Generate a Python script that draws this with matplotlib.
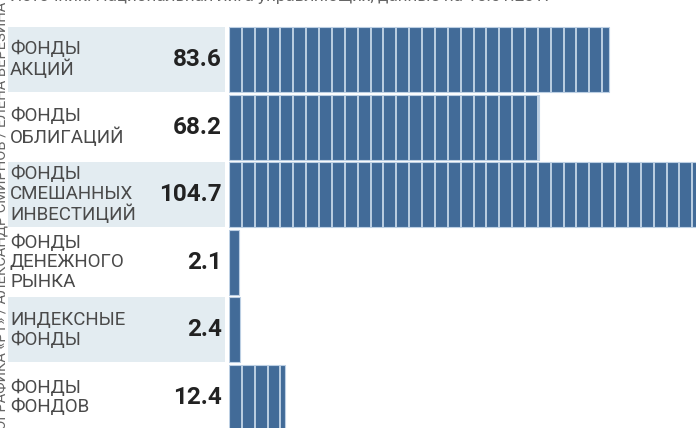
import matplotlib
matplotlib.use("Agg")
import matplotlib.pyplot as plt
import numpy as np

categories = ["ФОНДЫ\nАКЦИЙ", "ФОНДЫ\nОБЛИГАЦИЙ", "ФОНДЫ\nСМЕШАННЫХ\nИНВЕСТИЦИЙ",
              "ФОНДЫ\nДЕНЕЖНОГО\nРЫНКА", "ИНДЕКСНЫЕ\nФОНДЫ", "ФОНДЫ\nФОНДОВ"]
values = [83.6, 68.2, 104.7, 2.1, 2.4, 12.4]
value_labels = ["83.6", "68.2", "104.7", "2.1", "2.4", "12.4"]
source = "Источник: Национальная лига управляющих, данные на 15.01.2017"
credit = "ИНФОГРАФИКА «РТ» / АЛЕКСАНДР СМИРНОВ / ЕЛЕНА ВЕРЕЗИНА"

W, H = 696, 428
BAR = "#426b98"
SEG = "#bccfe3"
PANEL = "#e3ecf1"

fig = plt.figure(figsize=(W / 100, H / 100), dpi=100)
plt.rcParams['font.family'] = ['Roboto', 'DejaVu Sans']

pitch_px = 67.6
c0 = 59.5
ylim = ((H - c0) / pitch_px, -c0 / pitch_px)
bh = 65 / pitch_px
n = len(categories)
ypos = np.arange(n)

# label panel axes
x0, x1 = 8, 225
axl = fig.add_axes([x0 / W, 0, (x1 - x0) / W, 1])
axl.set_xlim(0, x1 - x0)
axl.set_ylim(*ylim)
axl.axis("off")
for i in ypos:
    if i % 2 == 0:
        axl.barh(i, x1 - x0, height=bh, left=0, color=PANEL, linewidth=0)
    axl.text(2, i, categories[i], ha="left", va="center", fontsize=13.5,
             color="#4a4a4a", linespacing=1.12)
    axl.text(x1 - x0 - 3, i, value_labels[i], ha="right", va="center",
             fontsize=17.5, fontweight="bold", color="#222222")

# bar axes
bx0 = 229
scale = 4.54  # px per unit
axb = fig.add_axes([bx0 / W, 0, (W - bx0) / W, 1])
axb.set_xlim(0, (W - bx0) / scale)
axb.set_ylim(*ylim)
axb.axis("off")
axb.barh(ypos, values, height=bh, color=BAR, edgecolor=SEG, linewidth=0.8)
seg = 12.87 / scale
for i, v in zip(ypos, values):
    xs = np.arange(seg, v, seg)
    if len(xs):
        axb.vlines(xs, i - bh / 2, i + bh / 2, color=SEG, linewidth=1.4)

fig.text(10 / W, 1 - (-3) / H, source, ha="left", va="center", fontsize=12.3,
         color="#666666")
fig.text(2 / W, 1 - 232 / H, credit, ha="center", va="center", rotation=90,
         fontsize=10.6, color="#666666")

fig.savefig("out.png", dpi=100)
